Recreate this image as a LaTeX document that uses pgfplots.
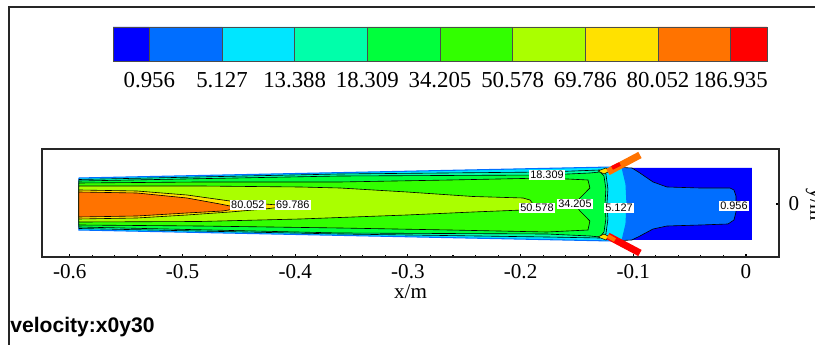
\documentclass[border=0pt]{standalone}
\usepackage{fontspec}
\setmainfont{Liberation Serif}
\newfontfamily\sans{Liberation Sans}
\usepackage{graphicx}
\usepackage{pgfplots}
\pgfplotsset{compat=1.18}
\definecolor{c0}{RGB}{0,0,255}
\definecolor{c1}{RGB}{0,110,255}
\definecolor{c2}{RGB}{0,230,255}
\definecolor{c3}{RGB}{0,255,170}
\definecolor{c4}{RGB}{0,255,60}
\definecolor{c5}{RGB}{50,255,0}
\definecolor{c6}{RGB}{170,255,0}
\definecolor{c7}{RGB}{255,225,0}
\definecolor{c8}{RGB}{255,115,0}
\definecolor{c9}{RGB}{255,0,0}
\begin{document}
\begin{tikzpicture}
\useasboundingbox (0,0) rectangle (16.3cm,6.9cm);
\clip (0,0) rectangle (16.3cm,6.9cm);
\fill[white] (0,0) rectangle (16.3cm,6.9cm);
\draw[line width=1.1pt, black!85] (0.18cm,-0.5cm) -- (0.18cm,6.76cm) -- (17cm,6.76cm);

% ---------- colour legend ----------
\begin{axis}[at={(2.26cm,5.68cm)}, anchor=south west, scale only axis,
  width=13.08cm, height=0.68cm, xmin=0, xmax=9, ymin=0, ymax=1,
  axis line style={draw=none}, ytick=\empty,
  xtick={0.5,1.5,2.5,3.5,4.5,5.5,6.5,7.5,8.5},
  xticklabels={0.956,5.127,13.388,18.309,34.205,50.578,69.786,80.052,186.935},
  major tick length=0pt,
  xticklabel style={font=\fontsize{13}{13}\selectfont, anchor=center, yshift=-0.38cm},
  clip=false]
\addplot[fill=c0, draw=black!70, line width=0.5pt] coordinates {(0,0) (0.5,0) (0.5,1) (0,1) (0,0)};
\addplot[fill=c1, draw=black!70, line width=0.5pt] coordinates {(0.5,0) (1.5,0) (1.5,1) (0.5,1) (0.5,0)};
\addplot[fill=c2, draw=black!70, line width=0.5pt] coordinates {(1.5,0) (2.5,0) (2.5,1) (1.5,1) (1.5,0)};
\addplot[fill=c3, draw=black!70, line width=0.5pt] coordinates {(2.5,0) (3.5,0) (3.5,1) (2.5,1) (2.5,0)};
\addplot[fill=c4, draw=black!70, line width=0.5pt] coordinates {(3.5,0) (4.5,0) (4.5,1) (3.5,1) (3.5,0)};
\addplot[fill=c5, draw=black!70, line width=0.5pt] coordinates {(4.5,0) (5.5,0) (5.5,1) (4.5,1) (4.5,0)};
\addplot[fill=c6, draw=black!70, line width=0.5pt] coordinates {(5.5,0) (6.5,0) (6.5,1) (5.5,1) (5.5,0)};
\addplot[fill=c7, draw=black!70, line width=0.5pt] coordinates {(6.5,0) (7.5,0) (7.5,1) (6.5,1) (6.5,0)};
\addplot[fill=c8, draw=black!70, line width=0.5pt] coordinates {(7.5,0) (8.5,0) (8.5,1) (7.5,1) (7.5,0)};
\addplot[fill=c9, draw=black!70, line width=0.5pt] coordinates {(8.5,0) (9,0) (9,1) (8.5,1) (8.5,0)};
\end{axis}

% ---------- contour plot ----------
\begin{axis}[at={(0.84cm,1.76cm)}, anchor=south west, scale only axis,
  width=14.74cm, height=2.16cm,
  xmin=-0.6247, xmax=0.0293, ymin=-0.04704, ymax=0.04881,
  scaled x ticks=false, scaled y ticks=false,
  xtick={-0.6,-0.5,-0.4,-0.3,-0.2,-0.1,0},
  xticklabels={-0.6,-0.5,-0.4,-0.3,-0.2,-0.1,0},
  minor x tick num=4, xtick pos=left, tick align=inside,
  ytick={0}, yticklabels={0}, ytick pos=right, yticklabel pos=right,
  major tick length=0.06cm, minor tick length=0.04cm,
  tick style={black, line width=0.6pt},
  axis line style={line width=0.6pt, black!85},
  xticklabel style={font=\fontsize{12}{12}\selectfont, anchor=center, yshift=-0.29cm},
  yticklabel style={font=\fontsize{12}{12}\selectfont, anchor=center, xshift=0.3cm},
  xlabel={x/m},
  xlabel style={at={(axis description cs:0.5,0)}, anchor=center, yshift=-0.69cm, font=\fontsize{12}{12}\selectfont},
  clip=true]
% outlet box (< 0.956)
\addplot[fill=c0, draw=none] coordinates {(-0.1012,0.03195) (0.0053,0.03195) (0.0053,-0.03195) (-0.1012,-0.03195) (-0.1012,0.03195)};
% 0.956 - 5.127
\addplot[fill=c1, draw=black, line width=0.35pt] coordinates {(-0.1189,0.03284) (-0.1012,0.03195) (-0.0941,0.02751) (-0.0825,0.01953) (-0.0701,0.01509) (-0.0408,0.01420) (-0.0142,0.01420) (-0.0107,0.01243) (-0.0089,0.00710) (-0.0089,-0.00710) (-0.0107,-0.01420) (-0.0160,-0.01775) (-0.0408,-0.01864) (-0.0701,-0.01953) (-0.0825,-0.02219) (-0.0941,-0.02840) (-0.1012,-0.03195) (-0.1189,-0.03284)};
% 5.127 - 13.388 (channel)
\addplot[fill=c2, draw=c1, line width=0.6pt] coordinates {(-0.5920,0.02308) (-0.1189,0.03284) (-0.1101,0.03284) (-0.1065,0.01775) (-0.1056,0) (-0.1065,-0.01775) (-0.1101,-0.03284) (-0.1189,-0.03284) (-0.5920,-0.02308) (-0.5920,0.02308)};
% 13.388 - 18.309
\addplot[fill=c3, draw=black, line width=0.35pt] coordinates {(-0.5920,0.02174) (-0.3603,0.02663) (-0.1766,0.02840) (-0.1296,0.03018) (-0.1243,0.02663) (-0.1225,0.01331) (-0.1234,0) (-0.1225,-0.01331) (-0.1243,-0.02663) (-0.1296,-0.03018) (-0.1766,-0.02929) (-0.3603,-0.02663) (-0.5920,-0.02174) (-0.5920,0.02174)};
% 18.309 - 34.205
\addplot[fill=c4, draw=black, line width=0.35pt] coordinates {(-0.5920,0.02041) (-0.3603,0.02485) (-0.1766,0.02574) (-0.1385,0.02751) (-0.1296,0.02840) (-0.1260,0.02485) (-0.1243,0.01331) (-0.1251,0) (-0.1243,-0.01331) (-0.1260,-0.02485) (-0.1296,-0.02929) (-0.1385,-0.02840) (-0.1766,-0.02663) (-0.3603,-0.02574) (-0.5920,-0.02041) (-0.5920,0.02041)};
% 34.205 - 50.578
\addplot[fill=c5, draw=black, line width=0.35pt] coordinates {(-0.5920,0.01864) (-0.4846,0.01953) (-0.3603,0.01953) (-0.2627,0.02130) (-0.1766,0.02308) (-0.1402,0.02130) (-0.1385,0.01420) (-0.1473,0.00533) (-0.1518,0) (-0.1473,-0.00621) (-0.1385,-0.01509) (-0.1402,-0.02308) (-0.1766,-0.02485) (-0.2627,-0.02308) (-0.3603,-0.02130) (-0.4846,-0.01953) (-0.5920,-0.01864) (-0.5920,0.01864)};
% 50.578 - 69.786
\addplot[fill=c6, draw=black, line width=0.35pt] coordinates {(-0.5920,0.01598) (-0.4846,0.01598) (-0.3958,0.01509) (-0.3603,0.01420) (-0.3009,0.01065) (-0.2423,0.00666) (-0.1979,0.00533) (-0.1917,0.00355) (-0.1890,0) (-0.1917,-0.00355) (-0.1979,-0.00533) (-0.2423,-0.00710) (-0.3009,-0.00976) (-0.3603,-0.01198) (-0.3958,-0.01331) (-0.4846,-0.01553) (-0.5920,-0.01598) (-0.5920,0.01598)};
% 69.786 - 80.052
\addplot[fill=c7, draw=black, line width=0.35pt] coordinates {(-0.5920,0.01243) (-0.5405,0.01154) (-0.4961,0.00799) (-0.4580,0.00266) (-0.4269,0) (-0.4047,-0.00178) (-0.4269,-0.00444) (-0.4580,-0.00710) (-0.4961,-0.00976) (-0.5405,-0.01243) (-0.5920,-0.01331) (-0.5920,0.01243)};
% 80.052 - 186.935
\addplot[fill=c8, draw=black, line width=0.35pt] coordinates {(-0.5920,0.01065) (-0.5405,0.00976) (-0.4961,0.00533) (-0.4668,0) (-0.4491,-0.00355) (-0.4642,-0.00621) (-0.4961,-0.00799) (-0.5405,-0.01065) (-0.5920,-0.01154) (-0.5920,0.01065)};
% nozzle lips
\addplot[fill=c7, draw=black, line width=0.3pt] coordinates {(-0.1314,0.02929) (-0.1243,0.03195) (-0.1207,0.02929) (-0.1260,0.02663) (-0.1314,0.02929)};
\addplot[fill=c7, draw=black, line width=0.3pt] coordinates {(-0.1314,-0.02929) (-0.1243,-0.03195) (-0.1207,-0.02929) (-0.1260,-0.02663) (-0.1314,-0.02929)};
% injection inlets
\addplot[c8, line width=0.14cm] coordinates {(-0.1225,0.0284) (-0.0941,0.0435)};
\addplot[c9, line width=0.08cm] coordinates {(-0.1189,0.0320) (-0.1118,0.0355)};
\addplot[c9, line width=0.14cm] coordinates {(-0.1225,-0.0284) (-0.0941,-0.0435)};
\addplot[c8, line width=0.08cm] coordinates {(-0.1225,-0.0284) (-0.1163,-0.0320)};
% contour labels
\begin{scope}[every node/.style={fill=white, inner sep=0.6pt, font=\sans\fontsize{6.2}{7}\selectfont}]
\node at (axis cs:-0.4420,-0.0009) {80.052};
\node at (axis cs:-0.4021,-0.0009) {69.786};
\node at (axis cs:-0.1766,0.0257) {18.309};
\node at (axis cs:-0.1855,-0.0036) {50.578};
\node at (axis cs:-0.1518,0) {34.205};
\node at (axis cs:-0.1127,-0.0036) {5.127};
\node at (axis cs:-0.0107,-0.0018) {0.956};
\end{scope}
\end{axis}
\node[rotate=-90, font=\fontsize{12}{12}\selectfont] at (16.3cm,2.8cm) {y/m};
\node[anchor=west, inner sep=0pt, font=\sans\bfseries\fontsize{12}{14}\selectfont] at (0.2cm,0.36cm) {velocity:x0y30};
\end{tikzpicture}
\end{document}
